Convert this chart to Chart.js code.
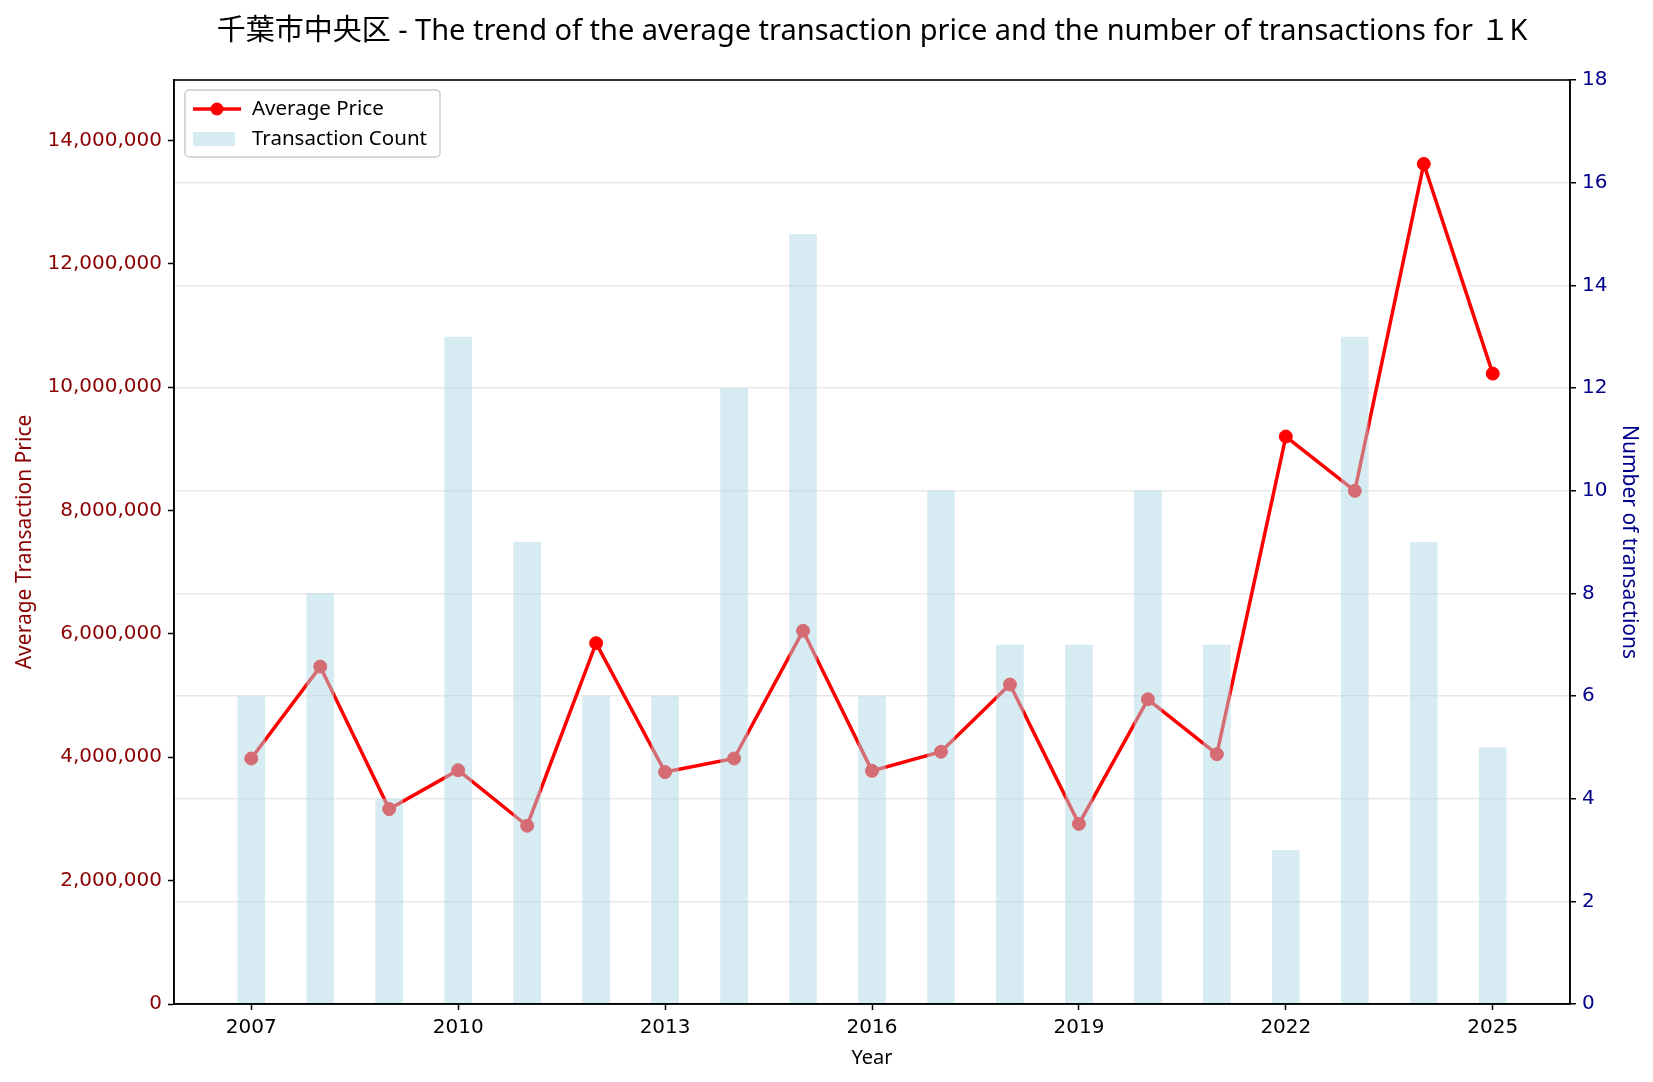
<!DOCTYPE html>
<html>
<head>
<meta charset="utf-8">
<script src="https://cdn.jsdelivr.net/npm/chart.js@4.4.0/dist/chart.umd.min.js"></script>
<style>
  html, body { margin: 0; padding: 0; background: #fff; }
  #wrap { width: 1653px; height: 1082px; }
</style>
</head>
<body>
<div id="wrap"><canvas id="chart" width="1653" height="1082"></canvas></div>
<script>
const TEXT_FONT = "'Noto Sans', 'Noto Sans CJK JP', sans-serif";
const TICK_FONT = "'DejaVu Sans', sans-serif";

// data
const years = [2007, 2008, 2009, 2010, 2011, 2012, 2013, 2014, 2015, 2016, 2017, 2018, 2019, 2020, 2021, 2022, 2023, 2024, 2025];
const avgPrice = [3980000, 5470000, 3160000, 3790000, 2890000, 5850000, 3760000, 3980000, 6050000, 3780000,
                  4090000, 5180000, 2920000, 4940000, 4050000, 9200000, 8320000, 13620000, 10220000];
const txCount = [6, 8, 4, 13, 9, 6, 6, 12, 15, 6, 10, 7, 7, 10, 7, 3, 13, 9, 5];
const yearTicks = [2007, 2010, 2013, 2016, 2019, 2022, 2025];
const priceTicks = [0, 2000000, 4000000, 6000000, 8000000, 10000000, 12000000, 14000000];
const countTicks = [0, 2, 4, 6, 8, 10, 12, 14, 16, 18];

const titleText = "千葉市中央区 - The trend of the average transaction price and the number of transactions for １K";

// title centred over the plot (like matplotlib), the frame and the legend inside the plot
const frameAndLegend = {
    id: "frameAndLegend",
    afterDraw(chart) {
        const ctx = chart.ctx;
        const a = chart.chartArea;
        ctx.save();

        ctx.fillStyle = "#000";
        ctx.font = "29px " + TEXT_FONT;
        ctx.textAlign = "center";
        ctx.textBaseline = "middle";
        ctx.fillText(titleText, (a.left + a.right) / 2, 32);
        ctx.textAlign = "left";

        ctx.strokeStyle = "#000";
        ctx.lineWidth = 1.6;
        ctx.strokeRect(a.left, a.top, a.right - a.left, a.bottom - a.top);

        // legend box
        const x = a.left + 11, y = a.top + 10, w = 255, h = 67, r = 4;
        ctx.beginPath();
        ctx.moveTo(x + r, y);
        ctx.arcTo(x + w, y, x + w, y + h, r);
        ctx.arcTo(x + w, y + h, x, y + h, r);
        ctx.arcTo(x, y + h, x, y, r);
        ctx.arcTo(x, y, x + w, y, r);
        ctx.closePath();
        ctx.fillStyle = "rgba(255,255,255,0.8)";
        ctx.fill();
        ctx.strokeStyle = "#cccccc";
        ctx.lineWidth = 1.5;
        ctx.stroke();

        // line sample
        const row1 = y + 19, row2 = y + 49;
        ctx.strokeStyle = "red";
        ctx.lineWidth = 3.5;
        ctx.beginPath();
        ctx.moveTo(x + 8, row1);
        ctx.lineTo(x + 56, row1);
        ctx.stroke();
        ctx.fillStyle = "red";
        ctx.beginPath();
        ctx.arc(x + 32, row1, 6.5, 0, Math.PI * 2);
        ctx.fill();

        // bar sample
        ctx.fillStyle = "rgba(173,216,230,0.5)";
        ctx.fillRect(x + 8, row2 - 7, 42, 14);

        ctx.fillStyle = "#000";
        ctx.font = "20.5px " + TEXT_FONT;
        ctx.fillText("Average Price", x + 67, row1);
        ctx.fillText("Transaction Count", x + 67, row2);
        ctx.restore();
    }
};

const ctx = document.getElementById("chart").getContext("2d");
const chart = new Chart(ctx, {
    type: "bar",
    data: {
        datasets: [
            {
                type: "bar",
                label: "Transaction Count",
                data: years.map((y, i) => ({x: y, y: txCount[i]})),
                backgroundColor: "rgba(173,216,230,0.5)",
                borderWidth: 0,
                barPercentage: 0.4,
                categoryPercentage: 1.0,
                yAxisID: "y1",
                order: 0
            },
            {
                type: "line",
                label: "Average Price",
                data: years.map((y, i) => ({x: y, y: avgPrice[i]})),
                borderColor: "red",
                backgroundColor: "red",
                borderWidth: 3.5,
                pointRadius: 6.5,
                pointBorderWidth: 1,
                pointBackgroundColor: "red",
                pointBorderColor: "red",
                tension: 0,
                yAxisID: "y",
                order: 1
            }
        ]
    },
    plugins: [frameAndLegend],
    options: {
        responsive: false,
        animation: false,
        layout: { padding: { top: 80 } },
        plugins: {
            legend: { display: false },
            tooltip: { enabled: false },
            title: { display: false }
        },
        scales: {
            x: {
                type: "linear",
                min: 2005.88,
                max: 2026.12,
                offset: false,
                afterBuildTicks: (scale) => { scale.ticks = yearTicks.map(v => ({value: v})); },
                afterFit: (scale) => { scale.height = 78; },
                ticks: {
                    color: "#000",
                    font: { family: TICK_FONT, size: 20 },
                    padding: 6,
                    maxRotation: 0,
                    callback: (v) => String(v)
                },
                grid: { offset: false, drawOnChartArea: false, drawTicks: true, tickLength: 6, tickColor: "#000", tickWidth: 1.5 },
                border: { color: "#000", width: 1.6 },
                title: {
                    display: true,
                    text: "Year",
                    color: "#000",
                    font: { family: TEXT_FONT, size: 20 },
                    padding: { top: 0, bottom: 12 }
                }
            },
            y: {
                type: "linear",
                position: "left",
                min: 0,
                max: 14980000,
                afterBuildTicks: (scale) => { scale.ticks = priceTicks.map(v => ({value: v})); },
                afterFit: (scale) => { scale.width = 174; },
                ticks: {
                    color: "#8b0000",
                    font: { family: TICK_FONT, size: 20 },
                    padding: 6,
                    callback: (v) => v.toLocaleString("en-US")
                },
                grid: { drawOnChartArea: false, drawTicks: true, tickLength: 6, tickColor: "#000", tickWidth: 1.5 },
                border: { color: "#000", width: 1.6 },
                title: {
                    display: true,
                    text: "Average Transaction Price",
                    color: "#8b0000",
                    font: { family: TEXT_FONT, size: 21 },
                    padding: { top: 12, bottom: 0 }
                }
            },
            y1: {
                type: "linear",
                position: "right",
                min: 0,
                max: 18,
                afterBuildTicks: (scale) => { scale.ticks = countTicks.map(v => ({value: v})); },
                afterFit: (scale) => { scale.width = 83; },
                ticks: {
                    color: "#00008b",
                    font: { family: TICK_FONT, size: 20 },
                    padding: 6
                },
                grid: { drawOnChartArea: true, color: "rgba(0,0,0,0.09)", lineWidth: 1.5, drawTicks: true, tickLength: 6, tickColor: "#000", tickWidth: 1.5 },
                border: { color: "#000", width: 1.6 },
                title: {
                    display: true,
                    text: "Number of transactions",
                    color: "#00008b",
                    font: { family: TEXT_FONT, size: 21 },
                    padding: { top: 11, bottom: 0 }
                }
            }
        }
    }
});
</script>
</body>
</html>
